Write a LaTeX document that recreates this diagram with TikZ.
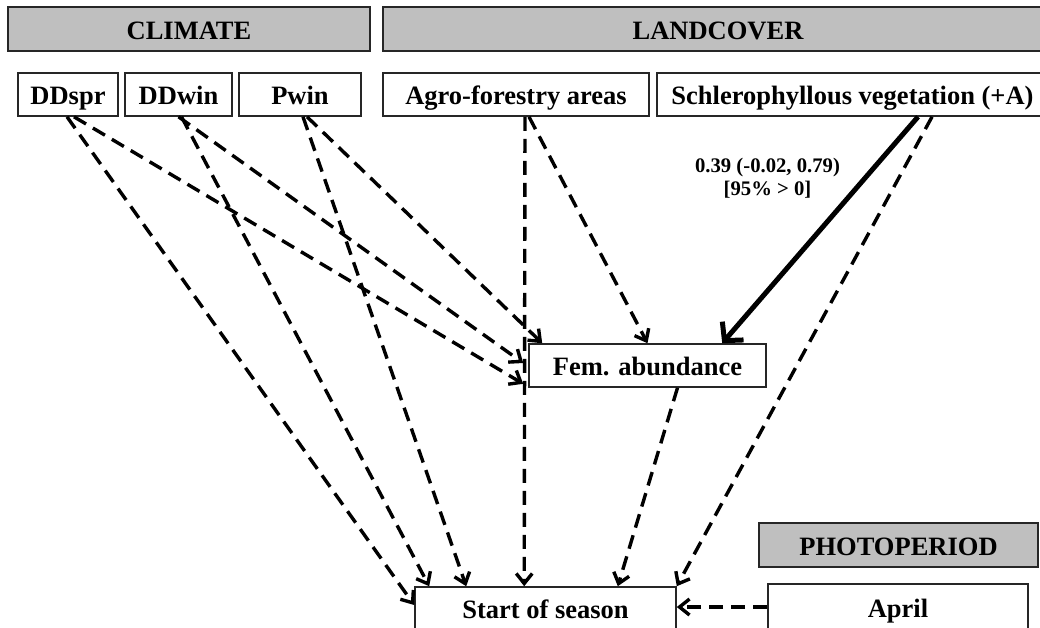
\documentclass[tikz,border=0pt]{standalone}
\usepackage{fontspec}
\setmainfont{Liberation Serif}
\usetikzlibrary{arrows.meta}
\begin{document}
\begin{tikzpicture}[x=1pt,y=-1pt,
  box/.style={draw=black!85, line width=1.6pt, fill=white, inner sep=0pt,
    minimum height=43pt, text height=20pt, text depth=0pt,
    font=\bfseries\fontsize{26.5}{30}\selectfont},
  header/.style={box, fill=gray!50, minimum height=44pt},
  link/.style={line width=3.4pt, dash pattern=on 14pt off 8pt,
    -{Straight Barb[length=10pt,width=16pt]}},
  effect/.style={line width=5pt, -{Straight Barb[length=13pt,width=28pt]}},
  estimate/.style={font=\bfseries\fontsize{20.7}{23}\selectfont, align=center, inner sep=0pt}
]
\useasboundingbox (0,0) rectangle (1040,627);
\fill[white] (0,0) rectangle (1040,627);
\clip (0,0) rectangle (1040,627);

% group headers
\node[header, minimum width=362pt] (climate) at (189,29) {CLIMATE};
\node[header, minimum width=670pt] (landcover) at (718,29) {LANDCOVER};
\node[header, minimum width=279pt] (photo) at (898.5,545) {PHOTOPERIOD};

% predictors
\node[box, minimum width=100pt] (ddspr) at (68,94.5) {DDspr};
\node[box, minimum width=107pt] (ddwin) at (178.5,94.5) {DDwin};
\node[box, minimum width=122pt] (pwin) at (300,94.5) {Pwin};
\node[box, minimum width=266pt] (agro) at (516,94.5) {Agro-forestry areas};
\node[box, minimum width=391pt] (schler) at (852.5,94.5) {Schlerophyllous vegetation (+A)};
\node[box, minimum width=260pt, minimum height=46pt] (april) at (898,607) {April};

% responses
\node[box, minimum width=237pt] (fem) at (647.5,365.5) {Fem. abundance};
\node[box, minimum width=261pt] (start) at (545.5,608.5) {Start of season};

% paths
\draw[link] ([xshift=-1pt]ddspr.south) -- ([yshift=3.5pt]start.west);
\draw[link] ([xshift=6pt]ddspr.south) -- ([xshift=-5pt,yshift=4pt]fem.south west);
\draw[link] ([xshift=3pt]ddwin.south) -- ([xshift=15pt]start.north west);
\draw[link] (ddwin.south) -- ([xshift=-5pt,yshift=2.5pt]fem.west);
\draw[link] ([xshift=3pt]pwin.south) -- ([xshift=52pt]start.north west);
\draw[link] ([xshift=7pt]pwin.south) -- ([xshift=14pt]fem.north west);
\draw[link] ([xshift=9pt]agro.south) -- ([xshift=110pt]start.north west);
\draw[link] ([xshift=13pt]agro.south) -- (fem.north);
\draw[effect] ([xshift=65.5pt]schler.south) -- ([xshift=194pt]fem.north west);
\draw[link] ([xshift=79.5pt]schler.south) -- (start.north east);
\draw[link] ([xshift=30pt]fem.south) -- ([xshift=-59pt]start.north east);
\draw[link] (april.west) -- (april.west -| start.east);

% estimate for the credible path
\node[estimate] (est) at (767.5,178) {0.39 (-0.02, 0.79)\\ {[}95\% > 0]};
\end{tikzpicture}
\end{document}
